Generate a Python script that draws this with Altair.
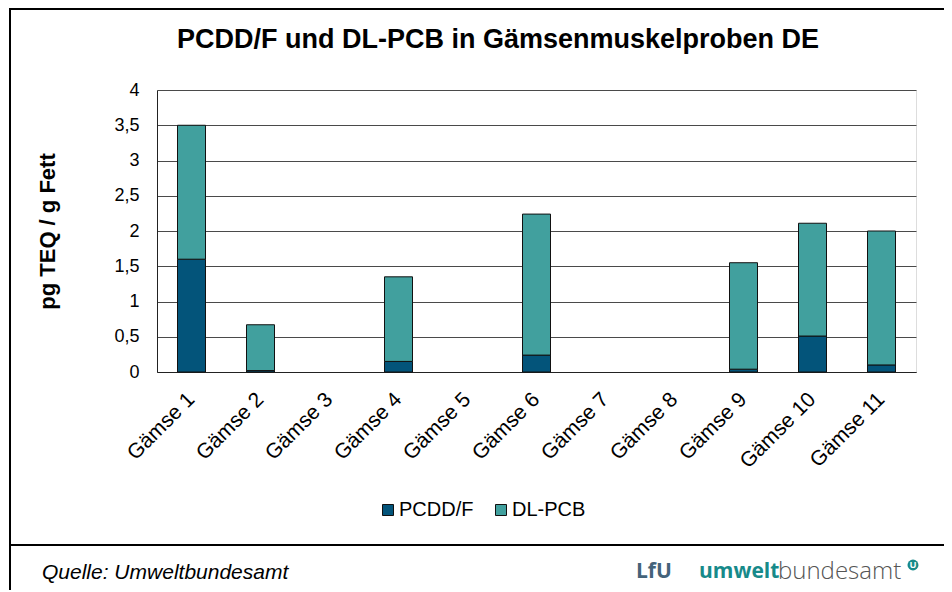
import altair as alt
import pandas as pd

samples = ["Gämse 1", "Gämse 2", "Gämse 3", "Gämse 4", "Gämse 5", "Gämse 6",
           "Gämse 7", "Gämse 8", "Gämse 9", "Gämse 10", "Gämse 11"]
pcdd_f = [1.6, 0.02, 0, 0.15, 0, 0.24, 0, 0, 0.04, 0.51, 0.1]
dl_pcb = [1.9, 0.65, 0, 1.2, 0, 2.0, 0, 0, 1.51, 1.6, 1.9]
series = ["PCDD/F", "DL-PCB"]
colors = ["#03547A", "#41A09E"]
y_ticks = [0, 0.5, 1, 1.5, 2, 2.5, 3, 3.5, 4]

rows = []
for i, s in enumerate(samples):
    rows.append({"Probe": s, "Serie": series[0], "Wert": pcdd_f[i], "ord": 0})
    rows.append({"Probe": s, "Serie": series[1], "Wert": dl_pcb[i], "ord": 1})
df = pd.DataFrame(rows)

FONT = "Liberation Sans"
W, H = 759, 282

bars = alt.Chart(df).transform_filter("datum.Wert > 0").mark_bar(
    size=28, stroke="#111111", strokeWidth=1).encode(
    x=alt.X("Probe:N", sort=samples, title=None,
            scale=alt.Scale(domain=samples, paddingInner=0.6, paddingOuter=0.3),
            axis=alt.Axis(labelAngle=-45, labelAlign="right", labelBaseline="middle",
                          labelPadding=24, ticks=False, labelFontSize=21,
                          labelColor="#000000", domainColor="#222222", labelFont=FONT)),
    y=alt.Y("Wert:Q", stack="zero", title="pg TEQ / g Fett",
            scale=alt.Scale(domain=[0, 4], nice=False),
            axis=alt.Axis(values=y_ticks, ticks=False, labelPadding=18, labelFontSize=18,
                          labelColor="#000000", labelFont=FONT,
                          labelExpr="replace(toString(datum.value), '.', ',')",
                          titleFontSize=22, titleFont=FONT, titleFontWeight="bold",
                          titleColor="#000000", titleX=-110, titleY=H / 2,
                          titleAlign="center", titleBaseline="middle",
                          gridColor="#4a4a4a", gridOpacity=1, gridWidth=1,
                          domainColor="#222222")),
    color=alt.Color("Serie:N", sort=series,
                    scale=alt.Scale(domain=series, range=colors),
                    legend=alt.Legend(title=None, orient="none", legendX=221, legendY=410,
                                      direction="horizontal", symbolType="square",
                                      symbolSize=121, symbolStrokeColor="#111111",
                                      symbolStrokeWidth=1, labelFontSize=20,
                                      labelFont=FONT, labelColor="#000000",
                                      columnPadding=17, labelOffset=1)),
    order=alt.Order("ord:Q"),
)

one = pd.DataFrame({"a": [0]})

title = alt.Chart(one).mark_text(fontSize=27, fontWeight="bold", font=FONT,
                                 baseline="middle", align="center", color="#000000").encode(
    x=alt.value(341), y=alt.value(-50),
    text=alt.value("PCDD/F und DL-PCB in Gämsenmuskelproben DE"))

frame_top = alt.Chart(one).mark_rule(stroke="#000000", strokeWidth=2).encode(
    x=alt.value(-148), x2=alt.value(787), y=alt.value(-81))
frame_left = alt.Chart(one).mark_rule(stroke="#000000", strokeWidth=2).encode(
    x=alt.value(-147), y=alt.value(-82), y2=alt.value(500))

footer_line = alt.Chart(one).mark_rule(stroke="#000000", strokeWidth=2).encode(
    x=alt.value(-147), x2=alt.value(787), y=alt.value(455))

source = alt.Chart(one).mark_text(fontSize=21, fontStyle="italic", font=FONT,
                                  align="left", baseline="middle", color="#000000").encode(
    x=alt.value(42 - 157), y=alt.value(573 - 90), text=alt.value("Quelle: Umweltbundesamt"))

lfu = alt.Chart(one).mark_text(fontSize=21, fontWeight="bold", font="Open Sans",
                               align="left", baseline="middle", color="#44637A").encode(
    x=alt.value(636 - 157), y=alt.value(572 - 90), text=alt.value("LfU"))

umwelt = alt.Chart(one).mark_text(fontSize=21, fontWeight="bold", font="Open Sans",
                                  align="left", baseline="middle", color="#178A8A").encode(
    x=alt.value(699 - 157), y=alt.value(572 - 90), text=alt.value("umwelt"))

bundesamt = alt.Chart(one).mark_text(fontSize=24, fontWeight=300, font="Open Sans",
                                     align="left", baseline="middle", color="#555555").encode(
    x=alt.value(778 - 157), y=alt.value(572 - 90), text=alt.value("bundesamt"))

logo_dot = alt.Chart(one).mark_point(shape="circle", size=120, filled=True,
                                     color="#178A8A", opacity=1).encode(
    x=alt.value(913 - 157), y=alt.value(565 - 90))
logo_u = alt.Chart(one).mark_text(fontSize=9, fontWeight="bold", font=FONT,
                                  align="center", baseline="middle", color="#ffffff").encode(
    x=alt.value(913 - 157), y=alt.value(565 - 90), text=alt.value("U"))

chart = alt.layer(bars, title, frame_top, frame_left, footer_line, source, lfu, umwelt,
                  bundesamt, logo_dot, logo_u).properties(
    width=W, height=H,
    autosize=alt.AutoSizeParams(type="none"),
    padding={"left": 149, "top": 82, "right": 28, "bottom": 218},
).configure_view(stroke="#222222", strokeWidth=1).configure(background="white")

chart.save("out.html", embed_options={"renderer": "svg", "actions": False})
